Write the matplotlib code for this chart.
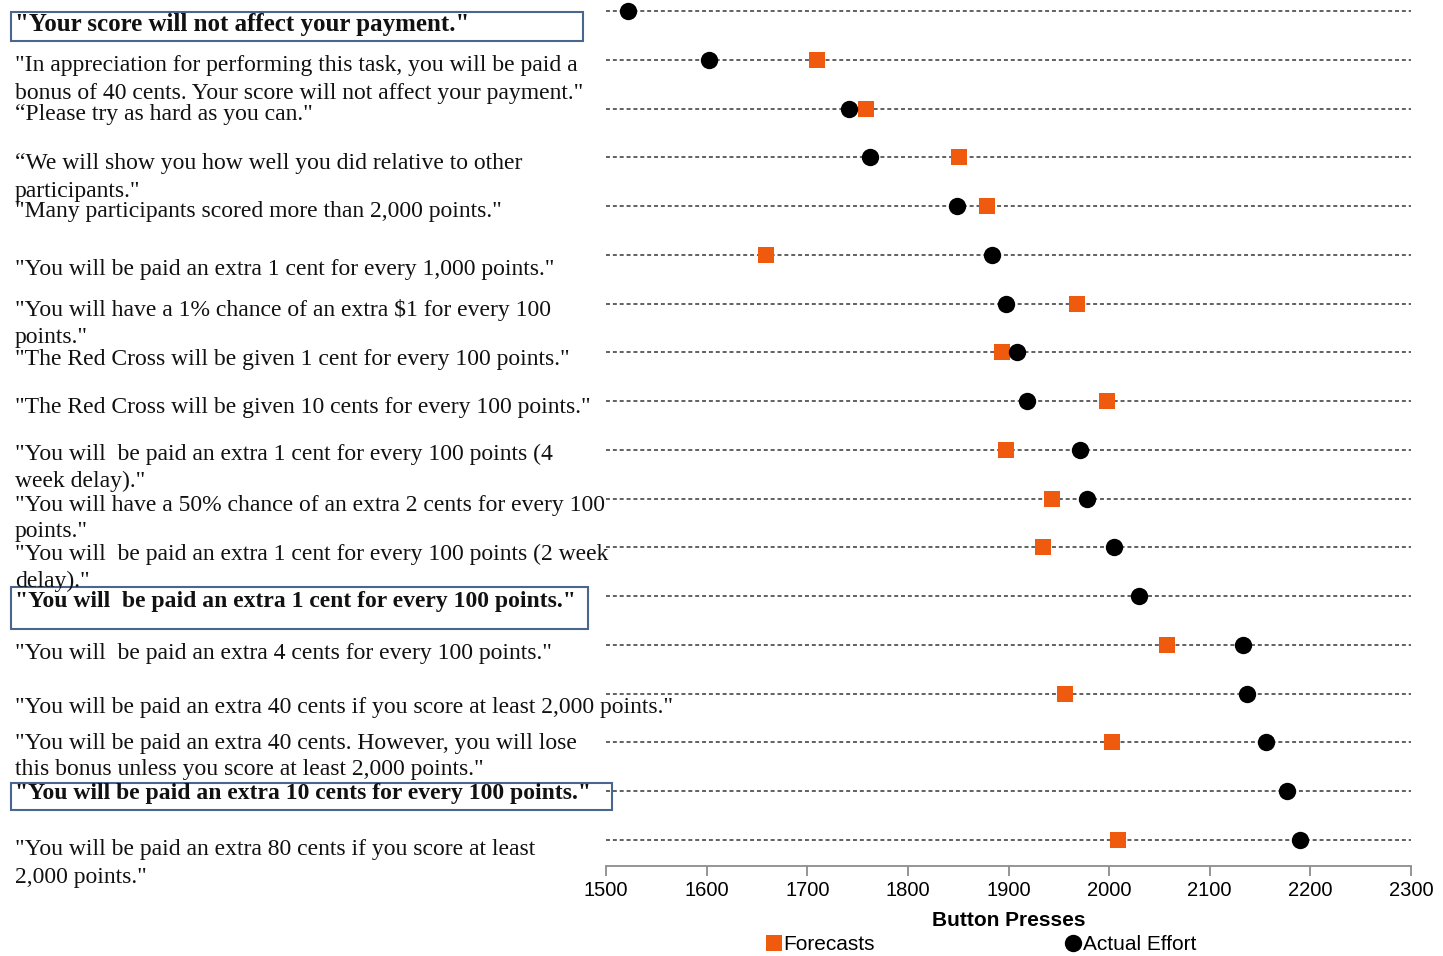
import numpy as np
import matplotlib
matplotlib.use("Agg")
import matplotlib.pyplot as plt
from matplotlib.patches import Rectangle

# ---------------- data ----------------
categories = [
    '"Your score will not affect your payment."',
    '"In appreciation for performing this task, you will be paid a\nbonus of 40 cents. Your score will not affect your payment."',
    '\u201cPlease try as hard as you can."',
    '\u201cWe will show you how well you did relative to other\nparticipants."',
    '"Many participants scored more than 2,000 points."',
    '"You will be paid an extra 1 cent for every 1,000 points."',
    '"You will have a 1% chance of an extra \\$1 for every 100\npoints."',
    '"The Red Cross will be given 1 cent for every 100 points."',
    '"The Red Cross will be given 10 cents for every 100 points."',
    '"You will  be paid an extra 1 cent for every 100 points (4\nweek delay)."',
    '"You will have a 50% chance of an extra 2 cents for every 100\npoints."',
    '"You will  be paid an extra 1 cent for every 100 points (2 week\ndelay)."',
    '"You will  be paid an extra 1 cent for every 100 points."',
    '"You will  be paid an extra 4 cents for every 100 points."',
    '"You will be paid an extra 40 cents if you score at least 2,000 points."',
    '"You will be paid an extra 40 cents. However, you will lose\nthis bonus unless you score at least 2,000 points."',
    '"You will be paid an extra 10 cents for every 100 points."',
    '"You will be paid an extra 80 cents if you score at least\n2,000 points."',
]
highlighted = [0, 12, 16]

actual_effort = [1522, 1602, 1741, 1762, 1849, 1884, 1898, 1908, 1918,
                 1971, 1978, 2005, 2030, 2133, 2137, 2156, 2177, 2190]
forecasts = [np.nan, 1710, 1758, 1851, 1879, 1659, 1968, 1894, 1998,
             1898, 1943, 1934, np.nan, 2058, 1956, 2003, np.nan, 2009]

x_ticks = [1500, 1600, 1700, 1800, 1900, 2000, 2100, 2200, 2300]

# ---------------- layout ----------------
W, H = 1443, 956
fig = plt.figure(figsize=(W / 100, H / 100), dpi=100)

def fx(px):
    return px / W

def fy(py):
    return 1 - py / H

ax_left, ax_right, ax_top, ax_bottom = 606, 1411, 0, 866
ax = fig.add_axes([fx(ax_left), fy(ax_bottom), (ax_right - ax_left) / W,
                   (ax_bottom - ax_top) / H])

row0_px, row_pitch = 11, 48.76
n = len(categories)
rows = np.arange(n)
ax.set_ylim((ax_bottom - row0_px) / row_pitch, (ax_top - row0_px) / row_pitch)
ax.set_xlim(x_ticks[0], x_ticks[-1])

ax.hlines(rows, x_ticks[0], x_ticks[-1], colors='#555555',
          linestyles=(0, (2.2, 1.6)), linewidth=1.3, zorder=1)

orange = '#F05A0F'
ax.plot(forecasts, rows, linestyle='none', marker='s', markersize=12,
        color=orange, markeredgewidth=0, label='Forecasts', zorder=3)
ax.plot(actual_effort, rows, linestyle='none', marker='o', markersize=12.5,
        color='black', markeredgewidth=0, label='Actual Effort', zorder=4)

for s in ['top', 'right', 'left']:
    ax.spines[s].set_visible(False)
ax.spines['bottom'].set_color('#8c8c8c')
ax.spines['bottom'].set_linewidth(1.3)
ax.set_yticks([])
ax.set_xticks(x_ticks)
ax.tick_params(axis='x', direction='out', length=7, width=1.3,
               color='#8c8c8c', pad=4, labelsize=14.5)
for lab in ax.get_xticklabels():
    lab.set_family('Liberation Sans')
ax.set_xlabel('Button Presses', fontsize=15, fontweight='bold',
              family='Liberation Sans', labelpad=8)

leg = ax.legend(loc='center', bbox_to_anchor=(fx(982), fy(945)),
                bbox_transform=fig.transFigure, ncol=2, frameon=False,
                prop={'family': 'Liberation Sans', 'size': 15},
                handlelength=0.6, handletextpad=0.15, columnspacing=9.2,
                borderpad=0, borderaxespad=0)

# ---------------- labels ----------------
label_top_px = [25, 66, 114, 164, 212, 270, 310, 359, 407, 454, 505, 554,
                602, 654, 708, 743, 793, 850]
line_pitch = 27
serif = 'Liberation Serif'
for i, text in enumerate(categories):
    bold = i in highlighted
    size = 17
    if i == 0:
        size = 18
    for k, line in enumerate(text.split('\n')):
        fig.text(fx(15), fy(label_top_px[i] + k * line_pitch), line,
                 ha='left', va='center', fontsize=size,
                 family=serif,
                 fontweight='bold' if bold else 'normal', color='#111111')

boxes = [(11, 12, 583, 41), (11, 587, 588, 629), (11, 783, 612, 810)]
for x0, y0, x1, y1 in boxes:
    fig.patches.append(Rectangle((fx(x0), fy(y1)), (x1 - x0) / W, (y1 - y0) / H,
                                 transform=fig.transFigure, fill=False,
                                 edgecolor='#4a6590', linewidth=1.5))

fig.savefig('out.png', dpi=100)
